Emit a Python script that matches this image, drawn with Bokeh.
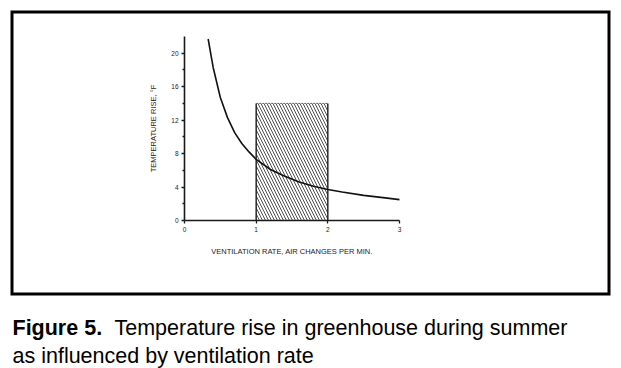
from bokeh.plotting import figure
from bokeh.models import Range1d, FixedTicker, Label
from bokeh.embed import file_html
from bokeh.resources import INLINE

# ---- data ----
vent_rate = [0.33, 0.4, 0.5, 0.6, 0.7, 0.8, 0.9, 1.0, 1.2, 1.4, 1.6, 1.8, 2.0, 2.2, 2.5, 2.8, 3.0]
temp_rise = [21.7, 18.3, 14.7, 12.3, 10.5, 9.2, 8.2, 7.3, 6.1, 5.3, 4.6, 4.1, 3.7, 3.4, 3.0, 2.7, 2.5]
band_x = [1.0, 2.0]
band_top = 14.0
x_ticks = [0, 1, 2, 3]
y_ticks = [0, 4, 8, 12, 16, 20]
y_minor = [2, 6, 10, 14, 18]
x_max = 3
y_max = 22

# ---- layout (pixels on the canvas) ----
W, H = 621, 368
AX_LEFT, AX_RIGHT = 184, 399     # pixel x of x=0 and x=x_max
AX_BOTTOM, AX_TOP = 220, 36      # pixel y of y=0 and y=y_max
SX = (AX_RIGHT - AX_LEFT) / x_max
SY = (AX_BOTTOM - AX_TOP) / y_max


def dx(px):
    return (px - AX_LEFT) / SX


def dy(py):
    return (AX_BOTTOM - py) / SY


p = figure(width=W, height=H, output_backend="svg", toolbar_location=None,
           x_range=Range1d(dx(0), dx(W)), y_range=Range1d(dy(H), dy(0)),
           min_border=0)
p.outline_line_color = None
p.xgrid.visible = False
p.ygrid.visible = False
p.background_fill_color = "white"

for ax in (p.xaxis[0], p.yaxis[0]):
    ax.fixed_location = 0
    ax.axis_line_width = 1.6
    ax.axis_line_color = "#1a1a1a"
    ax.major_tick_in = 0
    ax.major_tick_out = 3
    ax.major_tick_line_width = 1.3
    ax.major_tick_line_color = "#1a1a1a"
    ax.major_label_text_font = "Liberation Sans"
    ax.major_label_text_font_size = "6.5px"
    ax.major_label_text_color = "#222222"
    ax.axis_label_text_font = "Liberation Sans"
    ax.axis_label_text_font_size = "7.5px"
    ax.axis_label_text_font_style = "normal"
    ax.axis_label_text_color = "#222222"

p.xaxis.bounds = (0, x_max)
p.xaxis.ticker = FixedTicker(ticks=x_ticks)
p.xaxis.minor_tick_line_color = None
p.xaxis.major_label_standoff = 3
p.xaxis.axis_label = "VENTILATION RATE, AIR CHANGES PER MIN."
p.xaxis.axis_label_standoff = 12

p.yaxis.bounds = (0, y_max)
p.yaxis.ticker = FixedTicker(ticks=y_ticks, minor_ticks=y_minor)
p.yaxis.minor_tick_in = 0
p.yaxis.minor_tick_out = 2
p.yaxis.minor_tick_line_width = 1.3
p.yaxis.minor_tick_line_color = "#1a1a1a"
p.yaxis.major_label_standoff = 3
p.yaxis.axis_label = "TEMPERATURE RISE, °F"
p.yaxis.axis_label_standoff = 10

# hatched band
p.quad(left=[band_x[0]], right=[band_x[1]], bottom=[0], top=[band_top],
       fill_color=None, line_color=None,
       hatch_pattern="\\", hatch_color="#222222", hatch_scale=6, hatch_weight=0.8)
p.segment(x0=band_x, y0=[0, 0], x1=band_x, y1=[band_top, band_top],
          line_color="#1a1a1a", line_width=1.4)
p.segment(x0=[band_x[0]], y0=[band_top], x1=[band_x[1]], y1=[band_top],
          line_color="#444444", line_width=0.8, line_dash="2 1")

# curve
p.line(vent_rate, temp_rise, line_color="#111111", line_width=1.6)

# outer frame box
p.quad(left=[dx(11.5)], right=[dx(608.5)], top=[dy(11.5)], bottom=[dy(293.5)],
       fill_color=None, line_color="black", line_width=3, line_join="miter")

# caption (screen units are measured from the frame's bottom-left)
CAP_FONT = "21.5px"
p.add_layout(Label(x=12, y=H - 327, x_units="screen", y_units="screen",
                   text="Figure 5.", text_font="Liberation Sans",
                   text_font_style="bold", text_font_size=CAP_FONT,
                   text_baseline="alphabetic", text_color="black"))
p.add_layout(Label(x=114, y=H - 327, x_units="screen", y_units="screen",
                   text="Temperature rise in greenhouse during summer",
                   text_font="Liberation Sans", text_font_size=CAP_FONT,
                   text_baseline="alphabetic", text_color="black"))
p.add_layout(Label(x=12, y=H - 355, x_units="screen", y_units="screen",
                   text="as influenced by ventilation rate",
                   text_font="Liberation Sans", text_font_size=CAP_FONT,
                   text_baseline="alphabetic", text_color="black"))

open("out.html", "w").write(file_html(p, INLINE))
